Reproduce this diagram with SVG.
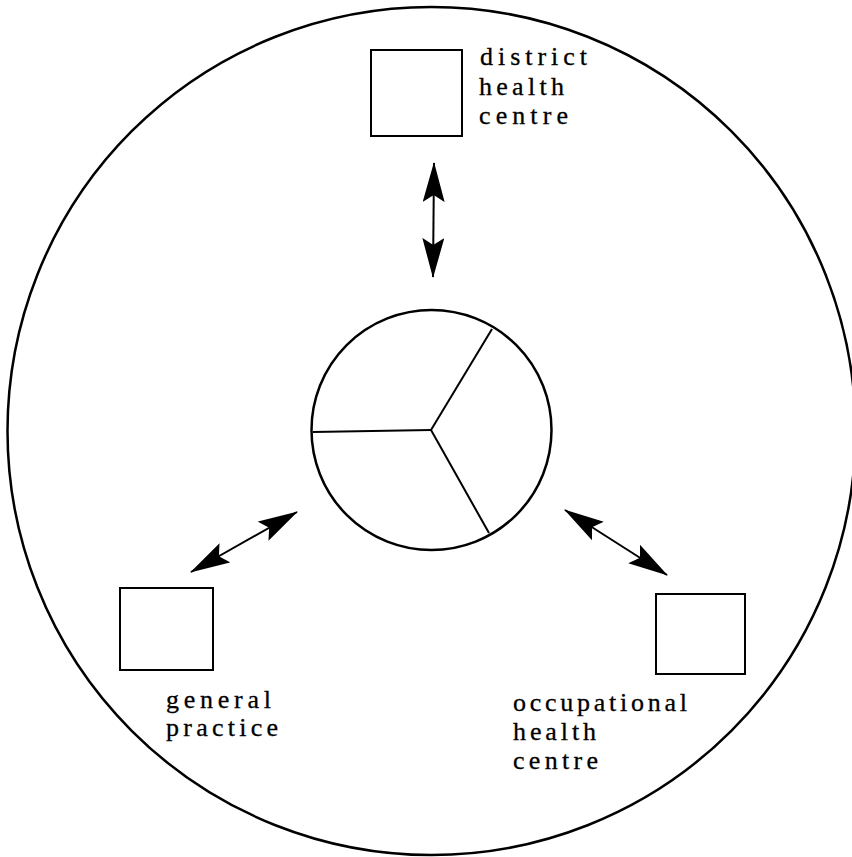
<svg xmlns="http://www.w3.org/2000/svg" width="852" height="857" viewBox="0 0 852 857">
<style>
  .ring { fill: none; stroke: #000; stroke-width: 2.5; }
  .box { fill: #fff; stroke: #000; stroke-width: 2; }
  .spoke { stroke: #000; stroke-width: 2; }
  .conn { stroke: #000; stroke-width: 2; fill: none; }
  .lbl { font-family: "Liberation Serif", "DejaVu Serif", serif; font-size: 26px; fill: #000; stroke: #000; stroke-width: 0.3; }
</style>
<defs>
  <marker id="head" markerUnits="userSpaceOnUse" markerWidth="40" markerHeight="22" viewBox="0 0 40 22" refX="39" refY="11" orient="auto-start-reverse">
    <path d="M0,0 L40,11 L0,22 L7,11 Z" fill="#000"/>
  </marker>
</defs>
<rect width="852" height="857" fill="#fff"/>
<g id="outer">
  <circle class="ring" cx="431.5" cy="431" r="424"/>
</g>
<g id="hub">
  <circle class="ring" cx="431.5" cy="430" r="120"/>
  <line class="spoke" x1="431" y1="430" x2="492" y2="329"/>
  <line class="spoke" x1="431" y1="430" x2="313" y2="432"/>
  <line class="spoke" x1="431" y1="430" x2="489" y2="533"/>
</g>
<g id="district">
  <rect class="box" x="371" y="50" width="91" height="86"/>
  <text class="lbl" x="480" y="65" textLength="107" lengthAdjust="spacing">district</text>
  <text class="lbl" x="479" y="95" textLength="85" lengthAdjust="spacing">health</text>
  <text class="lbl" x="479" y="124" textLength="89" lengthAdjust="spacing">centre</text>
</g>
<g id="general">
  <rect class="box" x="120" y="588" width="93" height="82"/>
  <text class="lbl" x="166" y="708" textLength="105" lengthAdjust="spacing">general</text>
  <text class="lbl" x="166" y="736" textLength="112" lengthAdjust="spacing">practice</text>
</g>
<g id="occupational">
  <rect class="box" x="656" y="594" width="89" height="80"/>
  <text class="lbl" x="513" y="711" textLength="174" lengthAdjust="spacing">occupational</text>
  <text class="lbl" x="513" y="740" textLength="83" lengthAdjust="spacing">health</text>
  <text class="lbl" x="513" y="769" textLength="85" lengthAdjust="spacing">centre</text>
</g>
<g id="connectors">
  <line class="conn" x1="434" y1="163" x2="433" y2="277" marker-start="url(#head)" marker-end="url(#head)"/>
  <line class="conn" x1="297" y1="512" x2="191" y2="572" marker-start="url(#head)" marker-end="url(#head)"/>
  <line class="conn" x1="565" y1="510" x2="667" y2="575" marker-start="url(#head)" marker-end="url(#head)"/>
</g>
</svg>
